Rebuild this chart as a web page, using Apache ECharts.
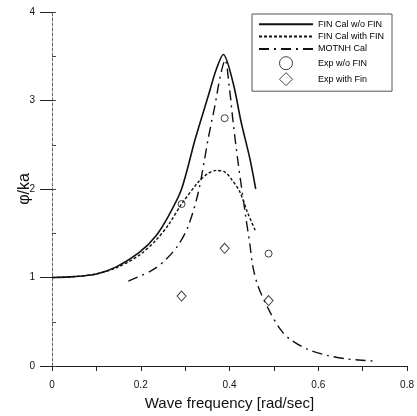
<!DOCTYPE html>
<html>
<head>
<meta charset="utf-8">
<script src="https://cdn.jsdelivr.net/npm/echarts@6/dist/echarts.min.js"></script>
<style>
  html, body { margin: 0; padding: 0; background: #fff; }
  #chart { width: 417px; height: 416px; }
</style>
</head>
<body>
<div id="chart"></div>
<script>
// FIN Cal w/o FIN
const freqNoFin = [0, 0.05, 0.1, 0.145, 0.196, 0.234, 0.263, 0.292, 0.323, 0.352, 0.37, 0.386, 0.408, 0.426, 0.446, 0.459];
const phiNoFin = [1.0, 1.01, 1.04, 1.12, 1.28, 1.47, 1.70, 2.0, 2.57, 3.05, 3.35, 3.52, 3.2, 2.76, 2.34, 2.0];
// FIN Cal with FIN
const freqFin = [0, 0.05, 0.1, 0.145, 0.196, 0.234, 0.263, 0.292, 0.33, 0.35, 0.37, 0.39, 0.403, 0.423, 0.441, 0.459];
const phiFin = [1.0, 1.01, 1.04, 1.11, 1.25, 1.42, 1.6, 1.83, 2.08, 2.17, 2.21, 2.19, 2.12, 1.97, 1.73, 1.52];
// MOTNH Cal
const freqMotnh = [0.172, 0.225, 0.256, 0.285, 0.307, 0.33, 0.352, 0.367, 0.379, 0.39, 0.40, 0.408, 0.419, 0.437, 0.446, 0.452, 0.463, 0.486, 0.515, 0.537, 0.575, 0.62, 0.664, 0.724];
const phiMotnh = [0.96, 1.08, 1.2, 1.37, 1.58, 1.97, 2.57, 2.94, 3.27, 3.46, 3.13, 2.76, 2.31, 1.67, 1.37, 1.14, 0.92, 0.66, 0.41, 0.30, 0.19, 0.12, 0.08, 0.056];
// experiments
const freqExp = [0.292, 0.389, 0.488];
const phiExpNoFin = [1.83, 2.80, 1.27];
const phiExpFin = [0.79, 1.33, 0.74];

const xTicks = [0, 0.2, 0.4, 0.6, 0.8];
const yTicks = [0, 1, 2, 3, 4];

const pairs = (xs, ys) => xs.map((x, i) => [x, ys[i]]);

const chart = echarts.init(document.getElementById("chart"));
const font = "Liberation Sans, Arial, sans-serif";
// 图例里线条不画中间的圆点
const noDot = { color: "rgba(0,0,0,0)", borderWidth: 0, opacity: 0 };
const hollow = { color: "#fff", borderColor: "#111", borderWidth: 1 };

const option = {
  backgroundColor: "#fff",
  animation: false,
  grid: { left: 52, right: 6, top: 12, bottom: 47 },
  legend: {
    orient: "vertical",
    left: 252,
    top: 14,
    width: 136,
    padding: [5, 8, 5, 6],
    itemGap: 2,
    itemWidth: 54,
    itemHeight: 13,
    borderColor: "#555",
    borderWidth: 1,
    textStyle: { fontFamily: font, fontSize: 9, color: "#000" },
    data: [
      { name: "FIN Cal w/o FIN", itemStyle: noDot },
      { name: "FIN Cal with FIN", itemStyle: noDot },
      { name: "MOTNH Cal", itemStyle: noDot },
      { name: "Exp w/o FIN", icon: "path://M0,7A7,7,0,1,0,14,7A7,7,0,1,0,0,7Z", itemStyle: hollow },
      { name: "Exp with Fin", icon: "path://M7,0L14,7L7,14L0,7Z", itemStyle: hollow },
    ],
  },
  xAxis: {
    type: "value",
    min: 0,
    max: 0.8,
    interval: 0.2,
    name: "Wave frequency [rad/sec]",
    nameLocation: "middle",
    nameGap: 30,
    nameMoveOverlap: false,
    nameTextStyle: { fontFamily: font, fontSize: 15, color: "#111" },
    axisLine: { show: true, lineStyle: { color: "#222", width: 1 } },
    axisTick: { show: true, length: 5, lineStyle: { color: "#222" } },
    minorTick: { show: true, splitNumber: 2, length: 5, lineStyle: { color: "#222" } },
    axisLabel: {
      fontFamily: font, fontSize: 10, color: "#111", margin: 14,
      formatter: (v) => (xTicks.includes(+v.toFixed(1)) ? String(+v.toFixed(1)) : ""),
    },
    splitLine: { show: false },
  },
  yAxis: [
    {
      type: "value",
      min: 0,
      max: 4,
      interval: 1,
      name: "φ/ka",
      nameLocation: "middle",
      nameGap: 19,
      nameRotate: 90,
      nameMoveOverlap: false,
      nameTextStyle: { fontFamily: font, fontSize: 16, color: "#111" },
      axisLine: { show: true, lineStyle: { color: "#666", width: 1, type: [3, 2] } },
      axisTick: { show: true, length: 12, lineStyle: { color: "#222" } },
      axisLabel: {
        fontFamily: font, fontSize: 10, color: "#111", margin: 17,
        formatter: (v) => (yTicks.includes(v) ? String(v) : ""),
      },
      splitLine: { show: false },
    },
    {
      type: "value",
      min: 0,
      max: 4,
      interval: 0.5,
      position: "left",
      axisLine: { show: false },
      axisTick: { show: true, inside: true, length: 4, lineStyle: { color: "#444" } },
      axisLabel: { show: false },
      splitLine: { show: false },
    },
  ],
  series: [
    {
      name: "FIN Cal w/o FIN",
      type: "line",
      data: pairs(freqNoFin, phiNoFin),
      smooth: 0.3,
      symbol: "none",
      lineStyle: { color: "#111", width: 1.6, type: "solid" },
      itemStyle: { color: "#111" },
    },
    {
      name: "FIN Cal with FIN",
      type: "line",
      data: pairs(freqFin, phiFin),
      smooth: 0.3,
      symbol: "none",
      lineStyle: { color: "#111", width: 1.4, type: [3, 2] },
      itemStyle: { color: "#111" },
    },
    {
      name: "MOTNH Cal",
      type: "line",
      data: pairs(freqMotnh, phiMotnh),
      smooth: 0.3,
      symbol: "none",
      lineStyle: { color: "#111", width: 1.4, type: [10, 5, 2, 5] },
      itemStyle: { color: "#111" },
    },
    {
      name: "Exp w/o FIN",
      type: "scatter",
      data: pairs(freqExp, phiExpNoFin),
      symbol: "circle",
      symbolSize: 7,
      itemStyle: hollow,
    },
    {
      name: "Exp with Fin",
      type: "scatter",
      data: pairs(freqExp, phiExpFin),
      symbol: "diamond",
      symbolSize: [9, 10],
      itemStyle: hollow,
    },
  ],
};

chart.setOption(option);
</script>
</body>
</html>
